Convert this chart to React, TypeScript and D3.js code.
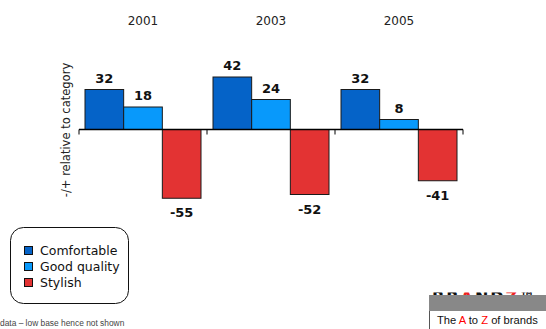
import React from "react";
import * as d3 from "d3";

const years = ["2001", "2003", "2005"];
const seriesNames = ["Comfortable", "Good quality", "Stylish"];
const comfortable = [32, 42, 32];
const goodQuality = [18, 24, 8];
const stylish = [-55, -52, -41];
const colors = ["#0563c8", "#0899fb", "#e33333"];

const W = 546;
const H = 329;

export default function App() {
  const x0 = d3.scaleBand<string>().domain(years).range([79, 463]).paddingInner(0).paddingOuter(0);
  const x1 = d3.scaleBand<string>().domain(seriesNames).range([6, 122]).padding(0);
  const y = d3.scaleLinear().domain([-60, 60]).range([204.5, 54.5]);
  const values = [comfortable, goodQuality, stylish];
  const font = "'DejaVu Sans', Verdana, sans-serif";
  const ticks = [...years.map((yr) => x0(yr)!), 463];

  return (
    <svg width={W} height={H} style={{ position: "absolute", left: 0, top: 0, background: "#fff" }}>
      <defs>
        <clipPath id="logoclip">
          <rect x={429} y={292.5} width={117} height={4} />
        </clipPath>
      </defs>
      {years.map((yr) => (
        <text key={yr} x={x0(yr)! + x0.bandwidth() / 2} y={25} textAnchor="middle" fontFamily={font} fontSize={12} fill="#222">
          {yr}
        </text>
      ))}
      <text transform={`translate(70,130) rotate(-90)`} textAnchor="middle" fontFamily={font} fontSize={11.5} fill="#222">
        -/+ relative to category
      </text>
      {years.map((yr, i) =>
        seriesNames.map((s, j) => {
          const v = values[j][i];
          const bx = x0(yr)! + x1(s)!;
          const top = Math.min(y(v), y(0));
          const h = Math.abs(y(v) - y(0));
          return (
            <g key={yr + s}>
              <rect x={bx} y={top} width={x1.bandwidth()} height={h} fill={colors[j]} stroke="#1a1a1a" strokeWidth={1} />
              <text
                x={bx + x1.bandwidth() / 2}
                y={v >= 0 ? y(v) - 7 : y(v) + 19}
                textAnchor="middle"
                fontFamily={font}
                fontWeight="bold"
                fontSize={13}
                fill="#111"
              >
                {v}
              </text>
            </g>
          );
        })
      )}
      <line x1={79} x2={463} y1={y(0)} y2={y(0)} stroke="#000" strokeWidth={1.5} />
      {ticks.map((t, i) => (
        <line key={i} x1={t} x2={t} y1={y(0)} y2={y(0) + 5} stroke="#000" strokeWidth={1} />
      ))}
      <rect x={10.5} y={227.5} width={118} height={76} rx={13} ry={13} fill="#fff" stroke="#111" strokeWidth={1} />
      {seriesNames.map((s, j) => (
        <g key={s}>
          <rect x={24.5} y={246.5 + j * 16} width={8} height={8} fill={colors[j]} stroke="#111" strokeWidth={1} />
          <text x={40} y={255 + j * 16} fontFamily={font} fontSize={12.5} fill="#111">
            {s}
          </text>
        </g>
      ))}
      <text x={0} y={326} fontFamily="'Liberation Sans', Arial, sans-serif" fontSize={8.4} fill="#444">
        data – low base hence not shown
      </text>
      <g clipPath="url(#logoclip)">
        <text x={432} y={303} fontFamily="'DejaVu Sans', sans-serif" fontWeight="bold" fontSize={16} fill="#111" letterSpacing={2}>
          BR<tspan fill="#e22">A</tspan>ND<tspan fill="#e22">Z</tspan>™
        </text>
      </g>
      <rect x={429} y={295} width={117} height={16} fill="#888" />
      <line x1={429.5} x2={429.5} y1={311} y2={329} stroke="#555" strokeWidth={1} />
      <text x={437} y={323.5} fontFamily="'Liberation Sans', Arial, sans-serif" fontSize={11.2} fill="#111">
        The <tspan fill="#f00">A</tspan> to <tspan fill="#f00">Z</tspan> of brands
      </text>
    </svg>
  );
}
